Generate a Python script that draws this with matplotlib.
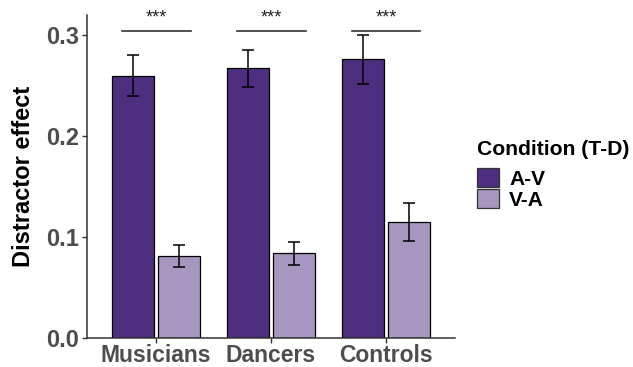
import matplotlib
matplotlib.use("Agg")
import matplotlib.pyplot as plt
import numpy as np
from matplotlib.patches import Patch

plt.rcParams['font.family'] = ['Liberation Sans', 'DejaVu Sans']

groups = ["Musicians", "Dancers", "Controls"]
conditions = ["A-V", "V-A"]
av_mean = [0.260, 0.267, 0.276]
av_se = [0.020, 0.018, 0.024]
va_mean = [0.081, 0.084, 0.115]
va_se = [0.0107, 0.0115, 0.0187]
sig_labels = ["***", "***", "***"]
sig_y = 0.304
yticks = [0.0, 0.1, 0.2, 0.3]

c_av = "#4E2E7E"
c_va = "#A797C0"

fig = plt.figure(figsize=(6.33, 3.67), dpi=100)
ax = fig.add_axes([87/633, 1-338/367, (455-87)/633, (338-15)/367])

x = np.arange(len(groups))
off = 0.2
w = 0.36
ax.bar(x - off, av_mean, width=w, color=c_av, edgecolor="black", linewidth=0.9, zorder=2)
ax.bar(x + off, va_mean, width=w, color=c_va, edgecolor="black", linewidth=0.9, zorder=2)
ax.errorbar(x - off, av_mean, yerr=av_se, fmt='none', ecolor="black", elinewidth=1.1,
            capsize=4.3, capthick=1.1, zorder=3)
ax.errorbar(x + off, va_mean, yerr=va_se, fmt='none', ecolor="black", elinewidth=1.1,
            capsize=4.3, capthick=1.1, zorder=3)

for i, lab in enumerate(sig_labels):
    ax.plot([x[i] - 0.3, x[i] + 0.3], [sig_y, sig_y], color="#333333", lw=1.2,
            clip_on=False, zorder=3)
    ax.text(x[i], sig_y + 0.005, lab, ha='center', va='bottom', fontsize=13,
            fontweight='normal', color="#222222")

ax.set_xlim(-0.6, 2.6)
ax.set_ylim(0, 0.32)
ax.set_xticks(x)
ax.set_xticklabels(groups, fontsize=16.5, fontweight='bold', color="#4D4D4D")
ax.set_yticks(yticks)
ax.set_yticklabels([f"{v:.1f}" for v in yticks], fontsize=17, fontweight='bold', color="#4D4D4D")
ax.tick_params(axis='both', length=3.5, width=1, color="#333333", pad=2)
ax.tick_params(axis='x', pad=0.5)
for s in ["top", "right"]:
    ax.spines[s].set_visible(False)
for s in ["left", "bottom"]:
    ax.spines[s].set_linewidth(1.1)
    ax.spines[s].set_color("#333333")
ax.set_ylabel("Distractor effect", fontsize=17, fontweight='bold', color="black", labelpad=8)

fig.text(477/633, 1-155/367, "Condition (T-D)", fontsize=15.2, fontweight='bold',
         ha='left', va='baseline', color="black")

handles = [Patch(facecolor=c_av, edgecolor="#333333", linewidth=0.9),
           Patch(facecolor=c_va, edgecolor="#333333", linewidth=0.9)]
leg = fig.legend(handles, conditions, loc='upper left', bbox_to_anchor=(477/633, 1-168/367),
                 frameon=False,
                 prop={'size': 15, 'weight': 'bold'},
                 handlelength=1.05, handleheight=1.05, labelspacing=0.0,
                 handletextpad=0.5, borderaxespad=0, borderpad=0)

fig.savefig("out.png", dpi=100)
